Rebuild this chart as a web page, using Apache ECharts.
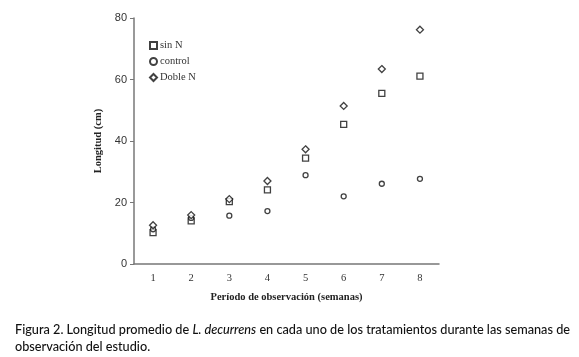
<!DOCTYPE html>
<html>
<head>
<meta charset="utf-8">
<script src="https://cdn.jsdelivr.net/npm/echarts@6/dist/echarts.min.js"></script>
<style>
  html, body { margin: 0; padding: 0; background: #fff; }
  #chart { width: 579px; height: 357px; }
</style>
</head>
<body>
<div id="chart"></div>
<script>
var semanas = ['1', '2', '3', '4', '5', '6', '7', '8'];
var sinN = [10.2, 14.0, 20.3, 24.1, 34.4, 45.4, 55.5, 61.1];
var control = [11.3, 15.0, 15.7, 17.2, 28.9, 22.0, 26.1, 27.7];
var dobleN = [12.6, 15.9, 21.1, 27.0, 37.3, 51.4, 63.4, 76.2];
var yTicks = [0, 20, 40, 60, 80];

var myChart = echarts.init(document.getElementById('chart'));
var serif = '"Liberation Serif", "DejaVu Serif", serif';
var cap = 'Lato, "Open Sans", sans-serif';
var mark = { color: '#fff', borderColor: '#111', borderWidth: 1.3 };

var option = {
  animation: false,
  backgroundColor: '#fff',
  title: {
    left: 10,
    top: 316,
    text: '{n|Figura 2. Longitud promedio de }{i|L. decurrens}{n| en cada uno de los tratamientos durante las semanas de}\n{n|observación del estudio.}',
    textStyle: {
      fontWeight: 'normal',
      rich: {
        n: { fontFamily: cap, fontSize: 12.7, fontWeight: 500, color: '#111', lineHeight: 17 },
        i: { fontFamily: cap, fontSize: 12.7, fontWeight: 500, fontStyle: 'italic', color: '#111', lineHeight: 17 }
      }
    }
  },
  legend: {
    orient: 'vertical',
    left: 144,
    top: 35,
    itemWidth: 7,
    itemHeight: 7,
    itemGap: 5,
    textStyle: { fontFamily: serif, fontSize: 10.5, color: '#333', padding: [0, 0, 0, -2] },
    data: ['sin N', 'control', 'Doble N']
  },
  grid: { left: 134, right: 140, top: 18, bottom: 93 },
  xAxis: {
    type: 'category',
    data: semanas,
    boundaryGap: true,
    name: 'Período de observación (semanas)',
    nameLocation: 'middle',
    nameGap: 28,
    nameTextStyle: { fontFamily: serif, fontWeight: 'bold', fontSize: 10.5, color: '#222' },
    axisLine: { lineStyle: { color: '#777', width: 1.5 } },
    axisTick: { length: 4, lineStyle: { color: '#777' } },
    axisLabel: { fontFamily: serif, fontSize: 10.5, color: '#333', margin: 9 },
    splitLine: { show: false }
  },
  yAxis: {
    type: 'value',
    min: yTicks[0],
    max: yTicks[yTicks.length - 1],
    interval: 20,
    name: 'Longitud (cm)',
    nameLocation: 'middle',
    nameGap: 28,
    nameTextStyle: { fontFamily: serif, fontWeight: 'bold', fontSize: 10.5, color: '#222' },
    axisLine: { show: true, lineStyle: { color: '#777', width: 1.5 } },
    axisTick: { show: true, length: 4, lineStyle: { color: '#777' } },
    axisLabel: { fontFamily: '"Liberation Sans", Arial, sans-serif', fontSize: 11, color: '#333', margin: 7 },
    splitLine: { show: false }
  },
  series: [
    { name: 'sin N', type: 'scatter', symbol: 'rect', symbolSize: 6, itemStyle: mark, data: sinN },
    { name: 'control', type: 'scatter', symbol: 'circle', symbolSize: 5, itemStyle: mark, data: control },
    { name: 'Doble N', type: 'scatter', symbol: 'diamond', symbolSize: 7, itemStyle: mark, data: dobleN }
  ]
};
myChart.setOption(option);
</script>
</body>
</html>
